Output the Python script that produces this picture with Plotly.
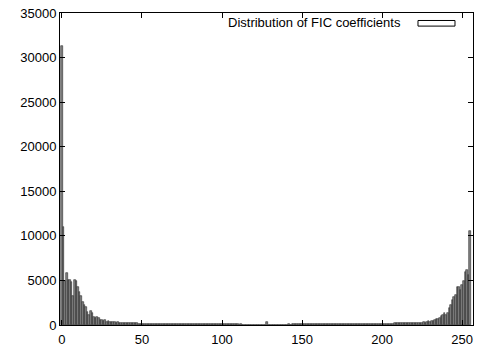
import plotly.graph_objects as go

# Coefficient values 0..255
coefficients = list(range(256))

# Counts per coefficient value
counts = [
    31300, 11000, 4900, 5800, 5000, 5100, 4800, 3300, 5100, 4900,   # 0-9
    4300, 3700, 3200, 2600, 2200, 2000, 1500, 1100, 1600, 1400,     # 10-19
    950, 750, 950, 800, 560, 580, 450, 520, 370, 420,               # 20-29
    330, 380, 300, 340, 280, 300, 250, 270, 230, 240,               # 30-39
    210, 220, 190, 200, 180, 185, 170, 175, 160, 165,               # 40-49
    150, 140, 145, 130, 135, 125, 130, 120, 122, 115,               # 50-59
    118, 110, 112, 105, 108, 100, 102, 98, 100, 95,                 # 60-69
    96, 92, 94, 90, 91, 88, 89, 85, 86, 83,                         # 70-79
    84, 80, 82, 78, 79, 76, 77, 74, 75, 72,                         # 80-89
    73, 70, 71, 68, 69, 66, 67, 65, 66, 63,                         # 90-99
    64, 62, 63, 60, 61, 59, 60, 58, 59, 57,                         # 100-109
    58, 56, 57, 55, 56, 54, 55, 53, 54, 52,                         # 110-119
    53, 52, 53, 51, 52, 50, 51, 50, 320, 50,                        # 120-129
    51, 50, 52, 51, 53, 52, 54, 53, 55, 54,                         # 130-139
    56, 55, 57, 56, 58, 57, 59, 58, 60, 59,                         # 140-149
    61, 60, 62, 61, 63, 62, 64, 63, 65, 66,                         # 150-159
    68, 67, 70, 69, 72, 71, 74, 73, 76, 75,                         # 160-169
    78, 77, 80, 79, 83, 82, 86, 85, 89, 88,                         # 170-179
    92, 91, 96, 95, 100, 99, 105, 104, 110, 109,                    # 180-189
    115, 114, 120, 119, 126, 125, 132, 131, 138, 137,               # 190-199
    145, 144, 152, 151, 160, 158, 168, 166, 176, 174,               # 200-209
    185, 183, 195, 192, 205, 202, 215, 212, 225, 230,               # 210-219
    240, 245, 255, 260, 270, 280, 300, 270, 380, 420,               # 220-229
    380, 470, 500, 560, 650, 680, 750, 1050, 1150, 1300,            # 230-239
    1120, 1300, 1870, 2250, 2800, 3100, 3400, 4300, 4300, 3900,     # 240-249
    4500, 4900, 6000, 6200, 5600, 10600,                            # 250-255
]

series_name = "Distribution of FIC coefficients"
x_ticks = [0, 50, 100, 150, 200, 250]
y_ticks = [0, 5000, 10000, 15000, 20000, 25000, 30000, 35000]

FONT = "Liberation Sans, Arial, Helvetica, sans-serif"

fig = go.Figure()
fig.add_trace(go.Bar(
    x=coefficients, y=counts, name=series_name,
    marker=dict(color="#828282", line=dict(color="#2e2e2e", width=0.6)),
    showlegend=False,
))

axis_common = dict(
    showline=True, linecolor="black", linewidth=1, mirror="allticks",
    ticks="inside", ticklen=5, tickcolor="black", tickwidth=1,
    showgrid=False, zeroline=False, ticklabeloverflow="allow",
    automargin=False,
    tickfont=dict(family=FONT, size=13, color="black"),
)

fig.update_layout(
    width=478, height=348,
    margin=dict(l=60, r=5, t=13, b=23),
    paper_bgcolor="white", plot_bgcolor="white",
    bargap=0,
    xaxis=dict(range=[-1.2, 256.8], tickvals=x_ticks, ticklabelstandoff=2,
               ticktext=[str(v) for v in x_ticks], **axis_common),
    yaxis=dict(range=[0, 35000], tickvals=y_ticks,
               ticktext=[str(v) for v in y_ticks], **axis_common),
    font=dict(family=FONT, size=13, color="black"),
)

# gnuplot-style key: text, then sample box on the right
fig.add_annotation(
    xref="paper", yref="paper", x=0.8305, y=0.968,
    xanchor="right", yanchor="middle", showarrow=False,
    text=series_name, font=dict(family=FONT, size=13, color="black"),
)
fig.add_shape(
    type="rect", xref="paper", yref="paper",
    x0=0.8668, x1=0.9564, y0=0.958, y1=0.976,
    line=dict(color="black", width=1), fillcolor="white",
)

fig.write_html(
    "out.html",
    config={"displayModeBar": False},
    post_script="document.body.style.margin='0';document.body.style.overflow='hidden';",
)
